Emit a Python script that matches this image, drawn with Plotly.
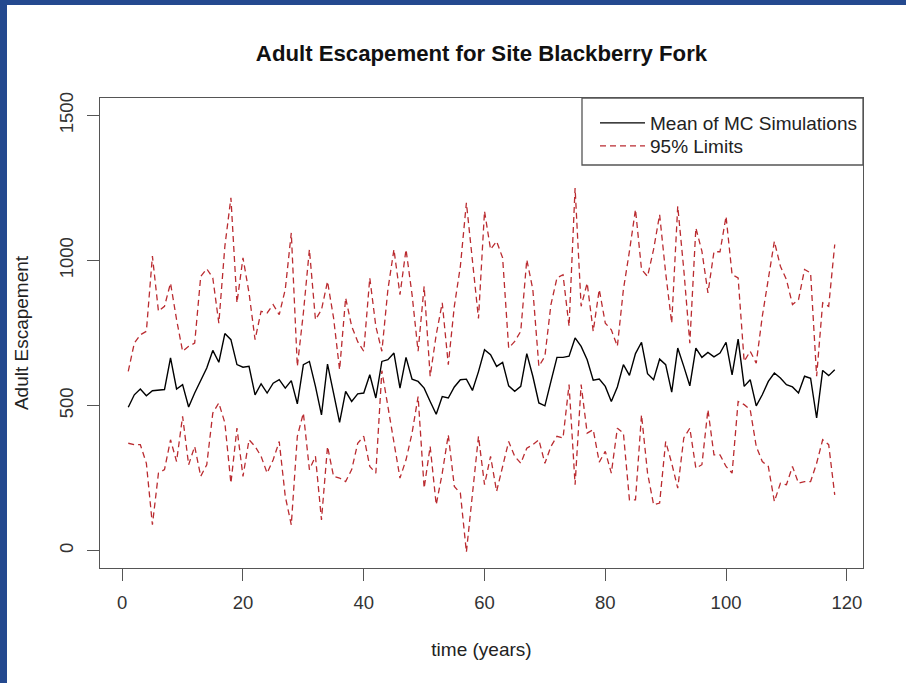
import plotly.graph_objects as go

years = list(range(1, 119))

mean_mc = [494, 537, 557, 534, 551, 552, 555, 664, 557, 572,
           495, 543, 589, 629, 690, 649, 748, 727, 641, 632,
           635, 537, 575, 543, 577, 589, 560, 586, 506, 641,
           652, 566, 468, 643, 543, 442, 549, 514, 540, 543,
           606, 526, 652, 658, 681, 560, 666, 591, 583, 560,
           514, 470, 531, 526, 564, 589, 591, 552, 617, 692,
           675, 635, 649, 568, 549, 566, 679, 601, 509, 499,
           583, 666, 666, 670, 733, 704, 658, 587, 591, 566,
           514, 564, 641, 604, 679, 718, 610, 589, 660, 641,
           546, 698, 635, 568, 698, 666, 683, 668, 681, 718,
           606, 729, 566, 589, 499, 537, 583, 612, 595, 572,
           564, 543, 601, 594, 457, 621, 603, 623]

upper_95 = [618, 715, 744, 756, 1015, 825, 842, 922, 796, 687,
            704, 715, 945, 971, 940, 784, 1049, 1216, 854, 1009,
            888, 727, 825, 819, 848, 813, 900, 1095, 635, 819,
            1038, 796, 830, 928, 802, 623, 871, 773, 720, 687,
            940, 773, 687, 900, 1038, 882, 1038, 882, 687, 911,
            601, 744, 854, 641, 842, 980, 1199, 990, 800, 1170,
            1038, 1066, 1009, 698, 721, 756, 1003, 900, 635, 670,
            848, 940, 951, 773, 1250, 842, 922, 756, 900, 784,
            761, 704, 900, 1032, 1176, 969, 945, 1038, 1158, 957,
            784, 1187, 969, 715, 1112, 1032, 888, 1030, 1030, 1152,
            951, 940, 652, 687, 646, 807, 945, 1066, 980, 934,
            848, 865, 969, 957, 601, 854, 842, 1055]

lower_95 = [370, 365, 365, 301, 89, 267, 279, 382, 307, 463,
            296, 359, 256, 296, 474, 509, 440, 232, 422, 256,
            382, 359, 325, 267, 313, 376, 187, 89, 394, 474,
            279, 325, 106, 359, 256, 250, 238, 279, 370, 394,
            290, 267, 620, 500, 380, 250, 313, 405, 531, 215,
            359, 158, 267, 399, 221, 198, -5, 200, 394, 227,
            325, 204, 290, 376, 325, 301, 353, 365, 382, 301,
            359, 394, 388, 572, 227, 572, 405, 417, 305, 342,
            267, 422, 405, 175, 175, 468, 267, 158, 164, 376,
            301, 215, 388, 422, 284, 296, 486, 330, 330, 290,
            267, 514, 503, 486, 359, 307, 290, 169, 232, 227,
            290, 232, 238, 238, 301, 382, 365, 192]

title_text = "Adult Escapement for Site Blackberry Fork"
x_title = "time (years)"
y_title = "Adult Escapement"
x_ticks = [0, 20, 40, 60, 80, 100, 120]
y_ticks = [0, 500, 1000, 1500]

W, H = 906, 683
L, R, T, B = 100, 43, 98, 115
PW, PH = W - L - R, H - T - B
FONT = "Liberation Sans, Arial, sans-serif"
FRAME = "#555555"
RED = "#BA2B30"


def px_x(p):
    return (p - L) / PW


def px_y(p):
    return (H - B - p) / PH


fig = go.Figure()
fig.add_trace(go.Scatter(x=years, y=mean_mc, mode="lines",
                         line=dict(color="black", width=1.4),
                         name="Mean of MC Simulations", legend="legend"))
fig.add_trace(go.Scatter(x=years, y=upper_95, mode="lines",
                         line=dict(color=RED, width=1.3, dash="6px,4px"),
                         name="95% Limits", legendgroup="lim", legend="legend2"))
fig.add_trace(go.Scatter(x=years, y=lower_95, mode="lines",
                         line=dict(color=RED, width=1.3, dash="6px,4px"),
                         name="95% Limits", legendgroup="lim", showlegend=False,
                         legend="legend2"))

axis_common = dict(
    showgrid=False, zeroline=False, showline=True, mirror=True,
    linecolor=FRAME, linewidth=1.3, ticks="outside", ticklen=12,
    tickwidth=1.3, tickcolor=FRAME, ticklabelstandoff=6,
    tickfont=dict(family=FONT, size=18.5, color="#333333"),
)

legend_common = dict(xanchor="left", yanchor="middle",
                     bgcolor="rgba(0,0,0,0)", borderwidth=0, itemwidth=45,
                     font=dict(family=FONT, size=19, color="#222222"))

fig.update_layout(
    width=W, height=H,
    margin=dict(l=L, r=R, t=T, b=B, pad=0),
    paper_bgcolor="#24498F",
    plot_bgcolor="white",
    font=dict(family=FONT, color="#222222"),
    title=dict(text="<b>" + title_text + "</b>", xref="container", yref="container",
               x=(L + PW / 2) / W, y=1 - 53 / H, xanchor="center", yanchor="middle",
               font=dict(family=FONT, size=22.2, color="#111111")),
    xaxis=dict(axis_common, range=[-3.68, 122.68], tickvals=x_ticks,
               title=dict(text=x_title, standoff=30,
                          font=dict(family=FONT, size=19, color="#222222"))),
    yaxis=dict(axis_common, range=[-60, 1560], tickvals=y_ticks, tickangle=-90,
               title=dict(text=y_title, standoff=22,
                          font=dict(family=FONT, size=19, color="#222222"))),
    legend=dict(legend_common, x=px_x(595), y=px_y(123)),
    legend2=dict(legend_common, x=px_x(595), y=px_y(146)),
    showlegend=True,
    shapes=[
        dict(type="rect", xref="paper", yref="paper", layer="below",
             x0=px_x(7), x1=px_x(W + 2), y0=px_y(H + 2), y1=px_y(5),
             fillcolor="white", line=dict(width=0)),
        dict(type="rect", xref="paper", yref="paper", layer="above",
             x0=px_x(582), x1=1, y0=px_y(165), y1=1,
             fillcolor="rgba(0,0,0,0)", line=dict(color=FRAME, width=1.3)),
    ],
)

fig.write_html("out.html")
